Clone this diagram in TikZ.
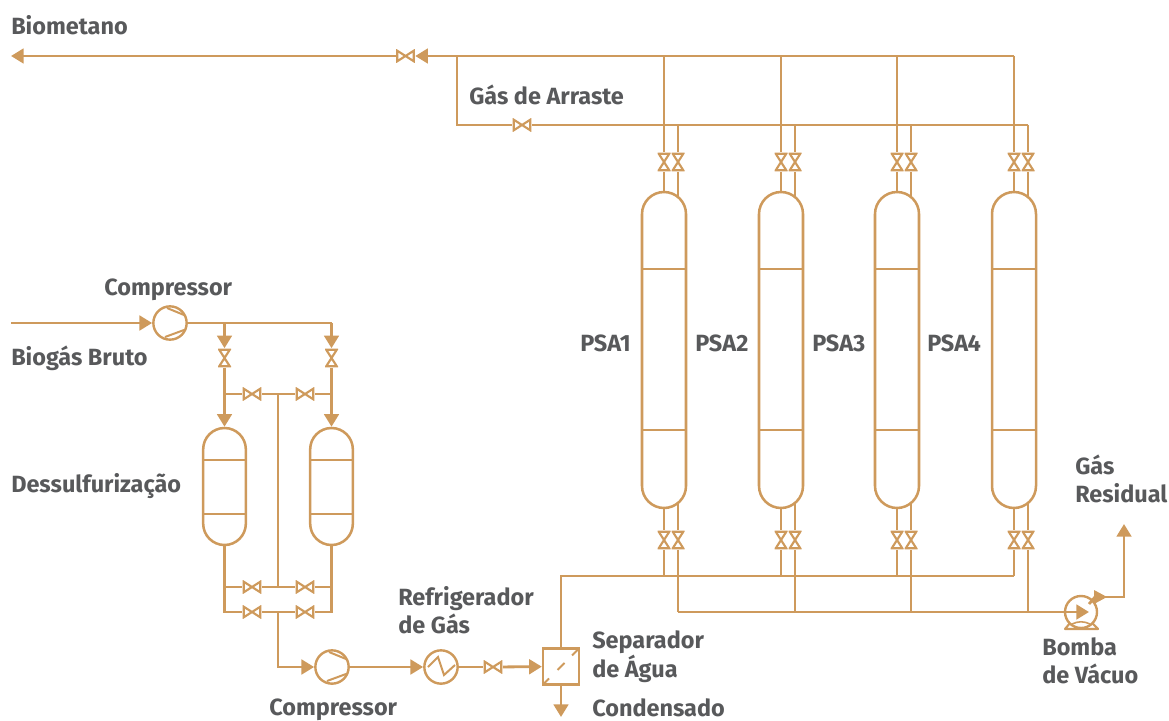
\documentclass[tikz,border=0pt]{standalone}
\usepackage{fontspec}
\setmainfont{Fira Sans}
\usetikzlibrary{arrows.meta}
\definecolor{pipe}{HTML}{CE9A5C}
\definecolor{txt}{HTML}{58595B}
\tikzset{
  pipeline/.style={draw=pipe,line width=2.1pt,line join=miter},
  flow/.style={pipeline,-{Triangle[length=9.5pt,width=11pt,color=pipe]}},
  lbl/.style={text=txt,anchor=base west,align=left,inner sep=0pt,font=\fontsize{17.6}{20.5}\selectfont\bfseries},
  valveh/.style={inner sep=0pt,minimum width=14.25pt,minimum height=9.75pt,
    path picture={\draw[pipe,line width=1.6pt,fill=white,shift={(path picture bounding box.center)}]
      (-8.3,-5.3)--(8.3,5.3)--(8.3,-5.3)--(-8.3,5.3)--cycle;}},
  valvev/.style={inner sep=0pt,minimum width=9.75pt,minimum height=14.25pt,
    path picture={\draw[pipe,line width=1.6pt,fill=white,shift={(path picture bounding box.center)}]
      (-5.3,-8.3)--(5.3,8.3)--(-5.3,8.3)--(5.3,-8.3)--cycle;}},
  bigvessel/.style={draw=pipe,line width=1.9pt,minimum width=33pt,minimum height=237pt,rounded corners=16.5pt,inner sep=0pt},
  smallvessel/.style={draw=pipe,line width=1.9pt,minimum width=32pt,minimum height=87.75pt,rounded corners=16pt,inner sep=0pt},
  compressor/.style={circle,draw=pipe,line width=1.8pt,minimum size=25pt,inner sep=0pt,
    path picture={\draw[pipe,line width=1.5pt,shift={(path picture bounding box.center)}]
      (-3,-15)--(14,-8) (-5,14)--(14,7);}},
  cooler/.style={circle,draw=pipe,line width=1.8pt,minimum size=25pt,inner sep=0pt,fill=white,
    path picture={\draw[pipe,line width=1.5pt,shift={(path picture bounding box.center)}]
      (-13,0)--(-3,-10)--(3,8)--(14,-2);}},
  separator/.style={draw=pipe,line width=1.8pt,minimum size=27pt,inner sep=0pt,
    path picture={\draw[pipe,line width=1.5pt,shift={(path picture bounding box.center)}]
      (18,-18)--(11,-11) (-3.5,3.5)--(3.5,-3.5) (-18,18)--(-12,12);}},
  pumpbody/.style={circle,draw=pipe,line width=1.8pt,minimum size=24pt,inner sep=0pt},
}
\begin{document}
\begin{tikzpicture}[x=0.75pt,y=-0.75pt]
\useasboundingbox (0,0) rectangle (1169,720);
% PSA vessels and upper/lower valves
\coordinate (tb) at (457,56);
\coordinate (bb) at (457,125);
\coordinate (ls) at (561,576);
\node[valveh] (vbio) at (405.5,56) {};
\node[valveh] (varr) at (522,125) {};
\coordinate (out) at (11,56);
\draw[flow] (vbio) -- (out);
\foreach \i/\x in {1/664,2/781,3/897,4/1014}{
  \node[bigvessel] (psa\i) at (\x,350) {};
  \draw[draw=pipe,line width=1.9pt] (\x-22,269) -- (\x+22,269) (\x-22,430) -- (\x+22,430);
  \pgfmathsetmacro{\xb}{\x+14}
  \coordinate (ta\i) at (\x,56);
  \coordinate (tc\i) at (\xb,125);
  \coordinate (pt\i) at (\xb,197);
  \coordinate (pb\i) at (\xb,503);
  \coordinate (la\i) at (\x,576);
  \coordinate (lc\i) at (\xb,612);
  \node[valvev] (ua\i) at (\x,162) {};
  \node[valvev] (ub\i) at (\xb,162) {};
  \node[valvev] (da\i) at (\x,540) {};
  \node[valvev] (db\i) at (\xb,540) {};
  \draw[pipeline] (ta\i) -- (ua\i) (ua\i) -- (psa\i.north);
  \draw[pipeline] (tc\i) -- (ub\i) (ub\i) -- (pt\i);
  \draw[pipeline] (psa\i.south) -- (da\i) (da\i) -- (la\i);
  \draw[pipeline] (pb\i) -- (db\i) (db\i) -- (lc\i);
}
\draw[flow] (ta4) -- (vbio);
\draw[pipeline] (tb) -- (bb) -- (varr);
\draw[pipeline] (varr) -- (tc4);
% feed
\coordinate (feed) at (11,323);
\node[compressor] (c1) at (170,323) {};
\draw[flow] (feed) -- (c1);
\coordinate (j1) at (224.5,323);
\coordinate (j2) at (331.5,323);
\node[smallvessel] (d1) at (224.5,486.5) {};
\node[smallvessel] (d2) at (331.5,486.5) {};
\draw[draw=pipe,line width=1.9pt] (203,460) -- (246,460) (203,514) -- (246,514) (310,460) -- (353,460) (310,514) -- (353,514);
\node[valvev] (v1) at (224.5,358) {};
\node[valvev] (v2) at (331.5,358) {};
\draw[pipeline] (c1) -- (j2);
\draw[flow] (j1) -- (v1);
\draw[flow] (j2) -- (v2);
\draw[flow] (v1) -- (d1);
\draw[flow] (v2) -- (d2);
\coordinate (k1) at (224.5,394);
\coordinate (k2) at (331.5,394);
\coordinate (k3) at (278,394);
\node[valveh] (v3) at (252,394) {};
\node[valveh] (v4) at (305,394) {};
\draw[pipeline] (k1) -- (v3) (v3) -- (k3) -- (v4) (v4) -- (k2);
\coordinate (m1) at (224.5,587);
\coordinate (m2) at (331.5,587);
\coordinate (m3) at (278,587);
\coordinate (n1) at (224.5,612);
\coordinate (n2) at (331.5,612);
\coordinate (n3) at (278,612);
\node[valveh] (v5) at (252,587) {};
\node[valveh] (v6) at (305,587) {};
\node[valveh] (v7) at (252,612) {};
\node[valveh] (v8) at (305,612) {};
\draw[pipeline] (k3) -- (m3);
\draw[pipeline] (d1.south) -- (n1) -- (v7) (v7) -- (n3) -- (v8) (v8) -- (n2) -- (d2.south);
\draw[pipeline] (m1) -- (v5) (v5) -- (m3) -- (v6) (v6) -- (m2);
% process line
\node[compressor] (c2) at (332,667) {};
\node[cooler] (hx) at (441,667) {};
\node[valveh] (v9) at (493,667) {};
\node[separator] (sep) at (561,666.5) {};
\coordinate (cond) at (561,717);
\draw[flow] (n3) |- (c2);
\draw[flow] (c2) -- (hx);
\draw[pipeline] (hx) -- (v9);
\draw[flow] (v9) -- (sep);
\draw[flow] (sep) -- (cond);
\draw[pipeline] (sep.north) -- (ls) -- (la4);
% vacuum pump
\node[pumpbody] (pump) at (1081,612) {};
\coordinate (pin) at (1089,612);
\draw[flow] (lc1) -- (pin);
\draw[draw=pipe,line width=1.6pt,line join=round] (1070,623) -- (1065,629) -- (1098,629) -- (1092,623);
\draw[draw=pipe,line width=1.2pt] (1072,624) to[bend left=25] (1090,624);
\coordinate (p1) at (1089,604);
\coordinate (p2) at (1095,597);
\coordinate (p3) at (1124,597);
\coordinate (gas) at (1124,524);
\draw[pipeline] (p1) -- (p2);
\fill[pipe] (1094,590) -- (1107,597) -- (1094,604) -- cycle;
\draw[flow] (p2) -- (p3) -- (gas);
% labels
\node[lbl] (t1) at (11,35) {Biometano};
\node[lbl] (t2) at (469,105) {Gás de Arraste};
\node[lbl] (t3) at (104,295) {Compressor};
\node[lbl] (t4) at (11,365) {Biogás Bruto};
\node[lbl] (t5) at (11,492) {Dessulfurização};
\node[lbl] (t6) at (580,351) {PSA1};
\node[lbl] (t7) at (695,351) {PSA2};
\node[lbl] (t8) at (812,351) {PSA3};
\node[lbl] (t9) at (927,351) {PSA4};
\node[lbl] (t10) at (1075,502) {Gás\\Residual};
\node[lbl] (t11) at (1042,683) {Bomba\\de Vácuo};
\node[lbl] (t12) at (398,633) {Refrigerador\\de Gás};
\node[lbl] (t13) at (592,677) {Separador\\de Água};
\node[lbl] (t14) at (592,716) {Condensado};
\node[lbl] (t15) at (269,715) {Compressor};
\end{tikzpicture}
\end{document}
